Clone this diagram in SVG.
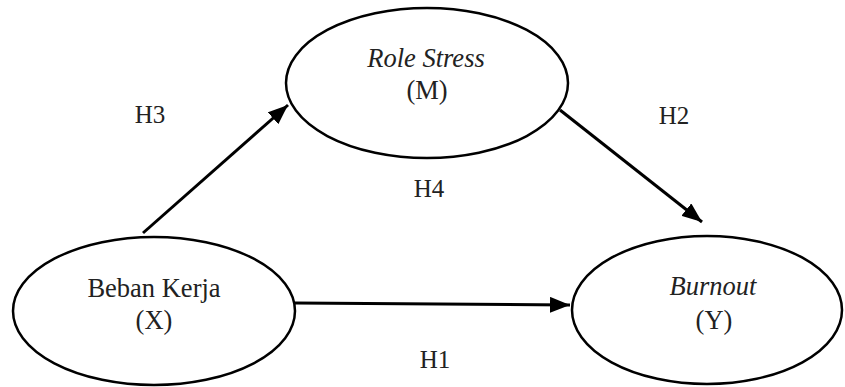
<svg xmlns="http://www.w3.org/2000/svg" width="845" height="387" viewBox="0 0 845 387">
<style>
.node ellipse{fill:#fff;stroke:#000;stroke-width:2.5}
text{font-family:"Liberation Serif","Times New Roman",serif;font-size:25px;fill:#222;text-anchor:middle}
.node text{font-size:26.5px}
.it{font-style:italic}
.conn line{stroke:#000;stroke-width:3}
</style>
<defs>
<marker id="ah" markerUnits="userSpaceOnUse" markerWidth="22" markerHeight="16" refX="20" refY="8" orient="auto">
<path d="M0,0 L20,8 L0,16 Z" fill="#000"/>
</marker>
</defs>
<g id="nodeX" class="node">
<ellipse cx="154" cy="311" rx="141" ry="74"/>
<text x="154" y="297">Beban Kerja</text>
<text x="154" y="329">(X)</text>
</g>
<g id="nodeM" class="node">
<ellipse cx="427" cy="83" rx="141" ry="75"/>
<text x="426" y="67" class="it">Role Stress</text>
<text x="427" y="99">(M)</text>
</g>
<g id="nodeY" class="node">
<ellipse cx="707" cy="310" rx="135" ry="74"/>
<text x="713" y="295" class="it">Burnout</text>
<text x="714" y="329">(Y)</text>
</g>
<g id="connectors" class="conn">
<line x1="143" y1="233" x2="288" y2="105" marker-end="url(#ah)"/>
<line x1="560" y1="110" x2="702" y2="222" marker-end="url(#ah)"/>
<line x1="295" y1="303" x2="570" y2="305" marker-end="url(#ah)"/>
</g>
<g id="labels">
<text x="150" y="123">H3</text>
<text x="674" y="124">H2</text>
<text x="429" y="197">H4</text>
<text x="435" y="368">H1</text>
</g>
</svg>
